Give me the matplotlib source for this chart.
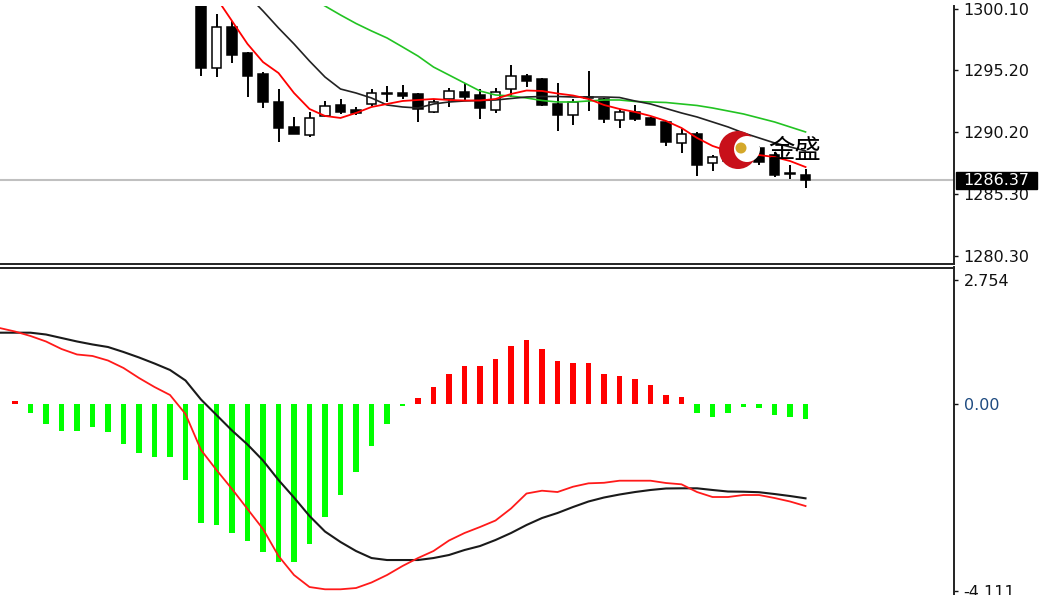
import matplotlib
matplotlib.use('Agg')
import matplotlib.pyplot as plt
import numpy as np
from matplotlib.patches import Rectangle, Circle

# ---------------- data ----------------
candle_start = 12  # bar index of first candle drawn
opens = [1302.41, 1295.36, 1298.65, 1296.56, 1294.88, 1292.64, 1290.64, 1290.00, 1291.52, 1292.40,
         1292.00, 1292.48, 1293.32, 1293.36, 1293.28, 1291.84, 1292.88, 1293.44, 1293.20, 1292.00,
         1293.68, 1294.72, 1294.48, 1292.48, 1291.60, 1293.04, 1292.88, 1291.20, 1291.84, 1291.36,
         1291.04, 1289.36, 1290.08, 1287.75, 1288.30, 1287.90, 1288.96, 1288.39, 1286.95, 1286.79]
highs = [1304.01, 1299.69, 1299.13, 1296.64, 1295.04, 1293.68, 1291.44, 1291.84, 1292.72, 1292.88,
         1292.24, 1293.68, 1293.92, 1294.00, 1293.36, 1292.88, 1293.76, 1294.16, 1293.68, 1293.76,
         1295.60, 1294.88, 1294.56, 1294.16, 1292.88, 1295.12, 1292.96, 1292.08, 1292.40, 1291.44,
         1291.12, 1290.48, 1290.24, 1288.39, 1288.60, 1289.00, 1289.12, 1288.63, 1287.59, 1287.27]
lows = [1294.72, 1294.64, 1295.76, 1293.04, 1292.16, 1289.44, 1290.04, 1289.84, 1291.44, 1291.68,
        1291.60, 1292.32, 1292.64, 1292.88, 1291.04, 1291.76, 1292.24, 1292.72, 1291.28, 1291.76,
        1293.04, 1293.84, 1292.32, 1290.32, 1290.80, 1291.92, 1290.96, 1290.56, 1291.12, 1290.76,
        1289.12, 1288.56, 1286.71, 1287.11, 1287.60, 1287.70, 1287.59, 1286.63, 1286.47, 1285.75]
closes = [1295.36, 1298.65, 1296.40, 1294.72, 1292.64, 1290.56, 1290.08, 1291.36, 1292.32, 1291.84,
          1291.76, 1293.36, 1293.36, 1293.12, 1292.08, 1292.64, 1293.52, 1293.04, 1292.16, 1293.44,
          1294.72, 1294.32, 1292.40, 1291.60, 1292.64, 1293.00, 1291.28, 1291.84, 1291.28, 1290.80,
          1289.44, 1290.08, 1287.59, 1288.23, 1287.90, 1288.60, 1287.83, 1286.79, 1286.91, 1286.37]

ma_red_start = 12
ma_red = [1303.21, 1300.97, 1299.13, 1297.29, 1295.84, 1294.96, 1293.36, 1292.08, 1291.52, 1291.36,
          1291.76, 1292.24, 1292.48, 1292.72, 1292.80, 1292.88, 1292.80, 1292.76, 1292.76, 1292.88,
          1293.28, 1293.56, 1293.52, 1293.32, 1293.16, 1292.88, 1292.40, 1292.08, 1291.84, 1291.52,
          1291.12, 1290.56, 1289.76, 1289.12, 1288.71, 1288.55, 1288.39, 1288.23, 1287.91, 1287.43]
ma_black_start = 15
ma_black = [1301.21, 1299.93, 1298.57, 1297.29, 1295.92, 1294.64, 1293.68, 1293.36, 1292.96, 1292.40,
            1292.24, 1292.16, 1292.48, 1292.64, 1292.72, 1292.76, 1292.80, 1292.92, 1293.04, 1293.08,
            1293.08, 1293.04, 1293.04, 1293.04, 1293.00, 1292.72, 1292.48, 1292.12, 1291.76, 1291.44,
            1291.04, 1290.64, 1290.16, 1289.76, 1289.36, 1289.04, 1288.72]
ma_green_start = 19
ma_green = [1301.05, 1300.33, 1299.61, 1298.93, 1298.33, 1297.77, 1297.05, 1296.32, 1295.44, 1294.80,
            1294.16, 1293.52, 1293.20, 1293.12, 1292.96, 1292.76, 1292.64, 1292.64, 1292.72, 1292.80,
            1292.80, 1292.68, 1292.64, 1292.60, 1292.48, 1292.36, 1292.16, 1291.92, 1291.68, 1291.36,
            1291.04, 1290.64, 1290.24]

current_price = 1286.37
price_ticks = [1280.30, 1285.30, 1290.20, 1295.20, 1300.10]
price_tick_labels = ["1280.30", "1285.30", "1290.20", "1295.20", "1300.10"]

hist = [0.08, -0.19, -0.42, -0.58, -0.58, -0.50, -0.61, -0.87, -1.08, -1.15,
        -1.15, -1.67, -2.62, -2.67, -2.83, -3.01, -3.25, -3.47, -3.47, -3.08,
        -2.49, -2.00, -1.50, -0.91, -0.42, -0.03, 0.14, 0.38, 0.67, 0.85,
        0.85, 1.01, 1.30, 1.42, 1.22, 0.97, 0.92, 0.92, 0.67, 0.63,
        0.56, 0.42, 0.21, 0.17, -0.18, -0.27, -0.18, -0.06, -0.08, -0.23,
        -0.27, -0.32]
macd_line_start = -1
macd_black = [1.585, 1.585, 1.585, 1.545, 1.468, 1.391, 1.325, 1.269, 1.159, 1.038,
              0.905, 0.762, 0.530, 0.110, -0.232, -0.574, -0.883, -1.236, -1.667, -2.053,
              -2.461, -2.804, -3.035, -3.234, -3.389, -3.433, -3.433, -3.433, -3.389, -3.322,
              -3.212, -3.124, -2.991, -2.837, -2.660, -2.506, -2.395, -2.263, -2.141, -2.053,
              -1.987, -1.932, -1.887, -1.854, -1.850, -1.850, -1.887, -1.921, -1.925, -1.936,
              -1.976, -2.020, -2.071]
macd_red = [1.689, 1.611, 1.512, 1.391, 1.225, 1.104, 1.071, 0.971, 0.806, 0.585,
            0.386, 0.210, -0.210, -1.004, -1.446, -1.865, -2.307, -2.748, -3.344, -3.764,
            -4.029, -4.079, -4.079, -4.051, -3.929, -3.764, -3.565, -3.389, -3.234, -3.002,
            -2.837, -2.704, -2.561, -2.296, -1.965, -1.903, -1.932, -1.815, -1.740, -1.728,
            -1.682, -1.682, -1.682, -1.733, -1.762, -1.932, -2.042, -2.042, -1.998, -1.998,
            -2.064, -2.141, -2.241]
macd_ticks = [2.754, 0.0, -4.111]
macd_tick_labels = ["2.754", "0.00", "-4.111"]

# ---------------- figure ----------------
W, H = 1039, 595
fig = plt.figure(figsize=(W / 100, H / 100), dpi=100)
plt.rcParams['font.family'] = ['DejaVu Sans']

axr = 954 / W
ax1 = fig.add_axes([0, 1 - 264 / H, axr, (264 - 6) / H])
ax2 = fig.add_axes([0, 0, axr, 1 - 267.5 / H])

xlim = (-0.968, 60.58)
for ax in (ax1, ax2):
    ax.set_xlim(*xlim)
    ax.set_xticks([])
    ax.yaxis.tick_right()
    ax.tick_params(axis='y', direction='out', length=3, width=1, pad=4,
                   labelsize=11.5, colors='#111111')
    ax.spines['left'].set_visible(False)
    for s in ax.spines.values():
        s.set_color('#222222')
        s.set_linewidth(1.4)

ax1.spines['top'].set_visible(False)
ax2.spines['bottom'].set_visible(False)

# ---- candles ----
ax1.set_ylim(1279.66, 1300.33)
n = len(opens)
xc = np.arange(candle_start, candle_start + n)
o = np.array(opens); c = np.array(closes); h = np.array(highs); l = np.array(lows)
ax1.vlines(xc, l, h, color='black', linewidth=1.4, zorder=2)
bw = 0.63
minh = 0.07
for xi, oi, ci in zip(xc, o, c):
    bot = min(oi, ci)
    ht = abs(ci - oi)
    if ht < minh:
        bot = (oi + ci) / 2 - minh / 2
        ht = minh
    face = 'white' if ci > oi else 'black'
    ax1.add_patch(Rectangle((xi - bw / 2, bot), bw, ht, facecolor=face,
                            edgecolor='black', linewidth=1.1, zorder=3))

# current price line
ax1.axhline(current_price, color='#c0c0c0', linewidth=1.5, zorder=1)

# moving averages
ax1.plot(np.arange(ma_green_start, ma_green_start + len(ma_green)), ma_green,
         color='#22c322', linewidth=1.2, zorder=4)
ax1.plot(np.arange(ma_black_start, ma_black_start + len(ma_black)), ma_black,
         color='#222222', linewidth=1.2, zorder=4)
ax1.plot(np.arange(ma_red_start, ma_red_start + len(ma_red)), ma_red,
         color='#ff0000', linewidth=1.3, zorder=5)

ax1.set_yticks(price_ticks)
ax1.set_yticklabels(price_tick_labels)

# ---- MACD ----
ax2.set_ylim(-4.205, 3.024)
hx = np.arange(len(hist))
hv = np.array(hist)
cols = ['#ff0000' if v > 0 else '#00ff00' for v in hv]
ax2.bar(hx, hv, width=0.36, color=cols, linewidth=0, zorder=2)
lx = np.arange(macd_line_start, macd_line_start + len(macd_black))
ax2.plot(lx, macd_black, color='#1a1a1a', linewidth=1.5, zorder=3)
ax2.plot(lx, macd_red, color='#ff1a1a', linewidth=1.3, zorder=4)
ax2.set_yticks(macd_ticks)
ax2.set_yticklabels(macd_tick_labels)
for t in ax2.get_yticklabels():
    if t.get_text() == "0.00":
        t.set_color('#1d4a80')

# ---- overlay: price box and logo ----
ov = fig.add_axes([0, 0, 1, 1])
ov.set_xlim(0, W)
ov.set_ylim(H, 0)
ov.axis('off')
ov.patch.set_alpha(0)
ov.add_patch(Rectangle((956, 172), 81, 17, facecolor='black', edgecolor='black', zorder=5))
ov.text(963, 180.5, f"{current_price:.2f}", color='white', fontsize=11.5,
        va='center', ha='left', zorder=6)

ov.add_patch(Circle((738, 150), 19, facecolor='#c8101a', edgecolor='none', zorder=5))
ov.add_patch(Circle((747, 149), 13, facecolor='white', edgecolor='none', zorder=6))
ov.add_patch(Circle((741, 148), 5.5, facecolor='#d4a82a', edgecolor='none', zorder=7))
ov.text(795, 150, "金盛", fontsize=19, family=['Noto Sans CJK SC', 'DejaVu Sans'],
        color='black', ha='center', va='center', zorder=8)

fig.savefig('out.png', dpi=100)
